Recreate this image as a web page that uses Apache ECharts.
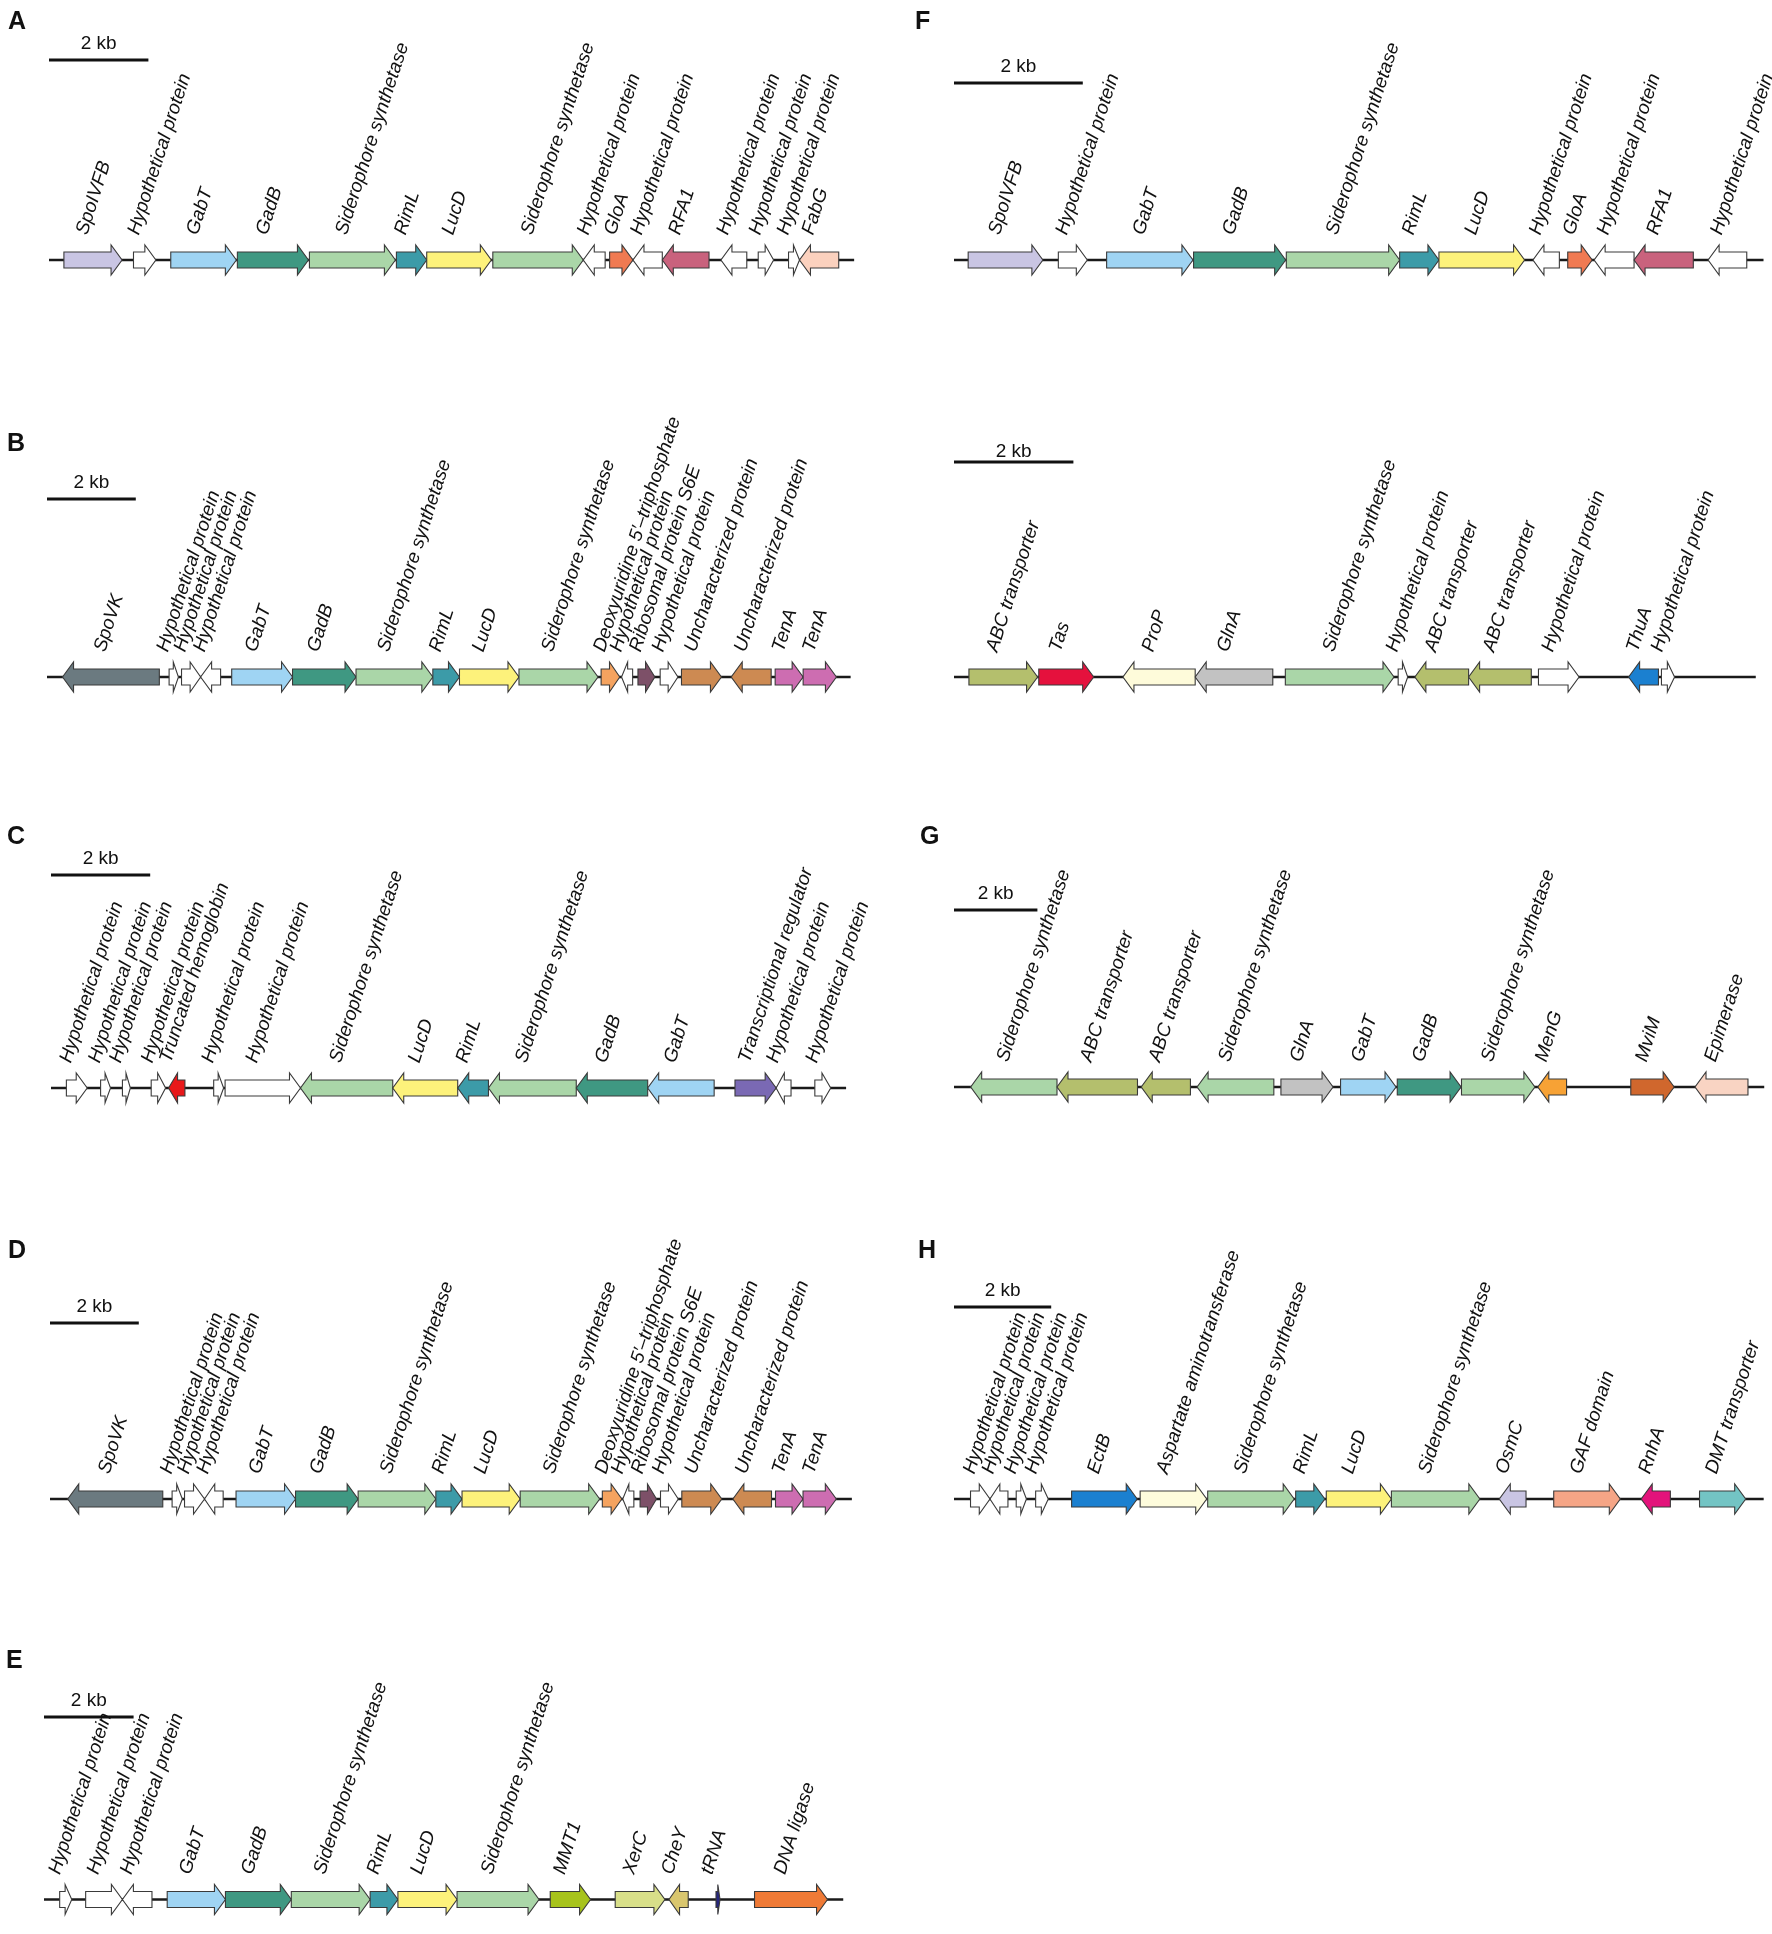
<!DOCTYPE html>
<html>
<head>
<meta charset="utf-8"/>
<title>Siderophore gene clusters</title>
<script src="https://cdn.jsdelivr.net/npm/echarts@6/dist/echarts.min.js"></script>
<style>
  html, body { margin: 0; padding: 0; background: #fff; }
  #chart { width: 1772px; height: 1934px; }
</style>
</head>
<body>
<div id="chart"></div>
<script>
// gene = [start kb, end kb, strand (1 forward, -1 reverse), label]
var genesA = [
  [0.30, 1.47, 1, 'SpoIVFB'],
  [1.70, 2.15, 1, 'Hypothetical protein'],
  [2.45, 3.77, 1, 'GabT'],
  [3.79, 5.22, 1, 'GadB'],
  [5.24, 6.97, 1, 'Siderophore synthetase'],
  [6.99, 7.60, 1, 'RimL'],
  [7.60, 8.90, 1, 'LucD'],
  [8.93, 10.75, 1, 'Siderophore synthetase'],
  [10.75, 11.19, -1, 'Hypothetical protein'],
  [11.28, 11.75, 1, 'GloA'],
  [11.75, 12.34, -1, 'Hypothetical protein'],
  [12.34, 13.28, -1, 'RFA1'],
  [13.52, 14.04, -1, 'Hypothetical protein'],
  [14.27, 14.58, 1, 'Hypothetical protein'],
  [14.88, 15.10, 1, 'Hypothetical protein'],
  [15.10, 15.89, -1, 'FabG']
];
var genesB = [
  [0.35, 2.53, -1, 'SpoVK'],
  [2.75, 2.96, 1, 'Hypothetical protein'],
  [3.03, 3.46, 1, 'Hypothetical protein'],
  [3.46, 3.91, -1, 'Hypothetical protein'],
  [4.16, 5.53, 1, 'GabT'],
  [5.53, 6.96, 1, 'GadB'],
  [6.96, 8.69, 1, 'Siderophore synthetase'],
  [8.69, 9.29, 1, 'RimL'],
  [9.29, 10.63, 1, 'LucD'],
  [10.63, 12.41, 1, 'Siderophore synthetase'],
  [12.48, 12.90, 1, 'Deoxyuridine 5\u2032\u2013triphosphate'],
  [12.94, 13.19, -1, 'Hypothetical protein'],
  [13.31, 13.69, 1, 'Ribosomal protein S6E'],
  [13.81, 14.21, 1, 'Hypothetical protein'],
  [14.29, 15.19, 1, 'Uncharacterized protein'],
  [15.41, 16.31, -1, 'Uncharacterized protein'],
  [16.40, 17.03, 1, 'TenA'],
  [17.03, 17.78, 1, 'TenA']
];
var genesC = [
  [0.31, 0.73, 1, 'Hypothetical protein'],
  [1.00, 1.20, 1, 'Hypothetical protein'],
  [1.44, 1.60, 1, 'Hypothetical protein'],
  [2.02, 2.31, 1, 'Hypothetical protein'],
  [2.37, 2.70, -1, 'Truncated hemoglobin'],
  [3.28, 3.48, 1, 'Hypothetical protein'],
  [3.51, 5.03, 1, 'Hypothetical protein'],
  [5.03, 6.89, -1, 'Siderophore synthetase'],
  [6.89, 8.20, -1, 'LucD'],
  [8.20, 8.82, -1, 'RimL'],
  [8.82, 10.59, -1, 'Siderophore synthetase'],
  [10.59, 12.03, -1, 'GadB'],
  [12.03, 13.37, -1, 'GabT'],
  [13.79, 14.62, 1, 'Transcriptional regulator'],
  [14.62, 14.92, -1, 'Hypothetical protein'],
  [15.40, 15.72, 1, 'Hypothetical protein']
];
var genesD = [
  [0.40, 2.54, -1, 'SpoVK'],
  [2.75, 2.98, 1, 'Hypothetical protein'],
  [3.03, 3.48, 1, 'Hypothetical protein'],
  [3.48, 3.90, -1, 'Hypothetical protein'],
  [4.19, 5.53, 1, 'GabT'],
  [5.53, 6.94, 1, 'GadB'],
  [6.94, 8.69, 1, 'Siderophore synthetase'],
  [8.69, 9.28, 1, 'RimL'],
  [9.28, 10.59, 1, 'LucD'],
  [10.59, 12.38, 1, 'Siderophore synthetase'],
  [12.44, 12.88, 1, 'Deoxyuridine 5\u2032\u2013triphosphate'],
  [12.90, 13.15, -1, 'Hypothetical protein'],
  [13.29, 13.66, 1, 'Ribosomal protein S6E'],
  [13.75, 14.15, 1, 'Hypothetical protein'],
  [14.23, 15.13, 1, 'Uncharacterized protein'],
  [15.38, 16.25, -1, 'Uncharacterized protein'],
  [16.34, 16.96, 1, 'TenA'],
  [16.96, 17.71, 1, 'TenA']
];
var genesE = [
  [0.35, 0.62, 1, 'Hypothetical protein'],
  [0.93, 1.75, 1, 'Hypothetical protein'],
  [1.75, 2.41, -1, 'Hypothetical protein'],
  [2.75, 4.05, 1, 'GabT'],
  [4.05, 5.52, 1, 'GadB'],
  [5.52, 7.28, 1, 'Siderophore synthetase'],
  [7.28, 7.90, 1, 'RimL'],
  [7.90, 9.22, 1, 'LucD'],
  [9.22, 11.05, 1, 'Siderophore synthetase'],
  [11.30, 12.20, 1, 'MMT1'],
  [12.75, 13.86, 1, 'XerC'],
  [13.95, 14.38, -1, 'CheY'],
  [15.00, 15.09, 1, 'tRNA'],
  [15.86, 17.49, 1, 'DNA ligase']
];
var genesF = [
  [0.22, 1.38, 1, 'SpoIVFB'],
  [1.62, 2.07, 1, 'Hypothetical protein'],
  [2.37, 3.71, 1, 'GabT'],
  [3.72, 5.15, 1, 'GadB'],
  [5.16, 6.92, 1, 'Siderophore synthetase'],
  [6.92, 7.53, 1, 'RimL'],
  [7.53, 8.86, 1, 'LucD'],
  [8.99, 9.40, -1, 'Hypothetical protein'],
  [9.53, 9.91, 1, 'GloA'],
  [9.94, 10.56, -1, 'Hypothetical protein'],
  [10.56, 11.48, -1, 'RFA1'],
  [11.71, 12.31, -1, 'Hypothetical protein']
];
var genesF2 = [
  [0.25, 1.40, 1, 'ABC transporter'],
  [1.42, 2.34, 1, 'Tas'],
  [2.83, 4.04, -1, 'ProP'],
  [4.04, 5.34, -1, 'GlnA'],
  [5.55, 7.37, 1, 'Siderophore synthetase'],
  [7.44, 7.60, 1, 'Hypothetical protein'],
  [7.72, 8.62, -1, 'ABC transporter'],
  [8.62, 9.67, -1, 'ABC transporter'],
  [9.79, 10.47, 1, 'Hypothetical protein'],
  [11.30, 11.80, -1, 'ThuA'],
  [11.85, 12.07, 1, 'Hypothetical protein']
];
var genesG = [
  [0.40, 2.47, -1, 'Siderophore synthetase'],
  [2.47, 4.40, -1, 'ABC transporter'],
  [4.49, 5.67, -1, 'ABC transporter'],
  [5.83, 7.67, -1, 'Siderophore synthetase'],
  [7.84, 9.09, 1, 'GlnA'],
  [9.27, 10.60, 1, 'GabT'],
  [10.63, 12.16, 1, 'GadB'],
  [12.17, 13.93, 1, 'Siderophore synthetase'],
  [14.00, 14.69, -1, 'MenG'],
  [16.23, 17.27, 1, 'MviM'],
  [17.77, 19.04, -1, 'Epimerase']
];
var genesH = [
  [0.34, 0.74, 1, 'Hypothetical protein'],
  [0.74, 1.11, -1, 'Hypothetical protein'],
  [1.28, 1.49, 1, 'Hypothetical protein'],
  [1.68, 1.94, 1, 'Hypothetical protein'],
  [2.42, 3.77, 1, 'EctB'],
  [3.83, 5.20, 1, 'Aspartate aminotransferase'],
  [5.22, 7.00, 1, 'Siderophore synthetase'],
  [7.03, 7.63, 1, 'RimL'],
  [7.66, 9.00, 1, 'LucD'],
  [9.00, 10.82, 1, 'Siderophore synthetase'],
  [11.22, 11.77, -1, 'OsmC'],
  [12.34, 13.71, 1, 'GAF domain'],
  [14.14, 14.74, -1, 'RnhA'],
  [15.34, 16.29, 1, 'DMT transporter']
];

var panelGenes = [genesA, genesB, genesC, genesD, genesE, genesF, genesF2, genesG, genesH];
var trackKb = [16.2, 18.1, 16.03, 18.06, 17.84, 12.57, 13.43, 19.43, 16.66];
var scaleKb = 2;

// page layout of each track (pixels)
var layout = [
  {letter: 'A', lx: 17,  ly: 23,   left: 49,  ppk: 49.7, y: 260,  barY: 60,   barGap: 7},
  {letter: 'B', lx: 16,  ly: 445,  left: 47,  ppk: 44.4, y: 677,  barY: 499,  barGap: 7},
  {letter: 'C', lx: 16,  ly: 838,  left: 51,  ppk: 49.6, y: 1088, barY: 875,  barGap: 7},
  {letter: 'D', lx: 17,  ly: 1252, left: 50,  ppk: 44.4, y: 1499, barY: 1323, barGap: 7},
  {letter: 'E', lx: 15,  ly: 1662, left: 44,  ppk: 44.8, y: 1915, barY: 1717, barGap: 7},
  {letter: 'F', lx: 924, ly: 23,   left: 954, ppk: 64.4, y: 260,  barY: 83,   barGap: 7},
  {letter: '',  lx: 0,   ly: 0,    left: 954, ppk: 59.7, y: 677,  barY: 462,  barGap: 1},
  {letter: 'G', lx: 929, ly: 838,  left: 954, ppk: 41.7, y: 1087, barY: 910,  barGap: 7},
  {letter: 'H', lx: 927, ly: 1252, left: 954, ppk: 48.6, y: 1499, barY: 1307, barGap: 7}
];

var geneColor = {
  'SpoIVFB': '#c9c5e3',
  'Hypothetical protein': '#ffffff',
  'GabT': '#9fd4f3',
  'GadB': '#3f9882',
  'Siderophore synthetase': '#aad6a8',
  'RimL': '#3c9ba8',
  'LucD': '#fdf27b',
  'GloA': '#f07a52',
  'RFA1': '#c9627d',
  'FabG': '#fbd1be',
  'SpoVK': '#6b7a80',
  'Deoxyuridine 5\u2032\u2013triphosphate': '#f5a35f',
  'Ribosomal protein S6E': '#7d5068',
  'Uncharacterized protein': '#cd8a52',
  'TenA': '#cd6db1',
  'Truncated hemoglobin': '#e8181a',
  'Transcriptional regulator': '#7a69b4',
  'MMT1': '#a7c31c',
  'XerC': '#d8df89',
  'CheY': '#d9c66e',
  'tRNA': '#26267c',
  'DNA ligase': '#ef7a36',
  'ABC transporter': '#b4bf6d',
  'Tas': '#e5113d',
  'ProP': '#fefbda',
  'GlnA': '#c2c2c2',
  'ThuA': '#1b80d0',
  'MenG': '#f7a235',
  'MviM': '#d0672d',
  'Epimerase': '#f9d4c3',
  'EctB': '#1b80d0',
  'Aspartate aminotransferase': '#fefcdc',
  'OsmC': '#c9c5e3',
  'GAF domain': '#f5a586',
  'RnhA': '#e3137b',
  'DMT transporter': '#73c4c4'
};

var LABEL_FONT = '"Liberation Sans", Arial, sans-serif';
var ANGLE = 72 * Math.PI / 180;

function geneRenderer(list) {
  return function (params, api) {
    var g = list[params.dataIndex];
    var a = api.coord([g[0], 0]);
    var b = api.coord([g[1], 0]);
    var x0 = Math.min(a[0], b[0]), x1 = Math.max(a[0], b[0]);
    var y = a[1];
    var len = x1 - x0;
    var head = Math.min(11, len * 0.55);
    var bh = 8, hh = 15;
    var pts;
    if (g[2] > 0) {
      pts = [[x0, y - bh], [x1 - head, y - bh], [x1 - head, y - hh], [x1, y],
             [x1 - head, y + hh], [x1 - head, y + bh], [x0, y + bh]];
    } else {
      pts = [[x1, y - bh], [x0 + head, y - bh], [x0 + head, y - hh], [x0, y],
             [x0 + head, y + hh], [x0 + head, y + bh], [x1, y + bh]];
    }
    var cx = (x0 + x1) / 2;
    return {
      type: 'group',
      children: [
        {
          type: 'polygon',
          shape: {points: pts},
          style: {fill: geneColor[g[3]] || '#fff', stroke: '#3a3a3a', lineWidth: 1.1}
        },
        {
          type: 'text',
          x: cx - 2,
          y: y - 23,
          rotation: ANGLE,
          style: {
            text: g[3],
            fontFamily: LABEL_FONT,
            fontStyle: 'italic',
            fontSize: 19,
            fill: '#111',
            align: 'left',
            verticalAlign: 'bottom'
          }
        }
      ]
    };
  };
}

function backboneRenderer(params, api) {
  var a = api.coord([api.value(0), 0]);
  var b = api.coord([api.value(1), 0]);
  return {
    type: 'line',
    shape: {x1: a[0], y1: a[1], x2: b[0], y2: b[1]},
    style: {stroke: '#1a1a1a', lineWidth: 2.6}
  };
}

function scaleRenderer(lay) {
  return function (params, api) {
    var a = api.coord([api.value(0), 0]);
    var b = api.coord([api.value(1), 0]);
    return {
      type: 'group',
      children: [
        {
          type: 'line',
          shape: {x1: a[0], y1: lay.barY, x2: b[0], y2: lay.barY},
          style: {stroke: '#111', lineWidth: 3}
        },
        {
          type: 'text',
          x: (a[0] + b[0]) / 2,
          y: lay.barY - lay.barGap,
          style: {
            text: scaleKb + ' kb',
            fontFamily: LABEL_FONT,
            fontSize: 19,
            fill: '#111',
            align: 'center',
            verticalAlign: 'bottom'
          }
        }
      ]
    };
  };
}

var grids = [], xAxes = [], yAxes = [], series = [], graphics = [];
layout.forEach(function (lay, i) {
  grids.push({left: lay.left, top: lay.y - 50, width: trackKb[i] * lay.ppk, height: 100});
  xAxes.push({gridIndex: i, type: 'value', min: 0, max: trackKb[i], show: false});
  yAxes.push({gridIndex: i, type: 'value', min: -1, max: 1, show: false});
  series.push({
    type: 'custom', xAxisIndex: i, yAxisIndex: i, silent: true,
    renderItem: backboneRenderer, data: [[0, trackKb[i]]], z: 1
  });
  series.push({
    type: 'custom', xAxisIndex: i, yAxisIndex: i, silent: true,
    renderItem: geneRenderer(panelGenes[i]),
    data: panelGenes[i].map(function (g) { return [g[0], g[1], g[2]]; }), z: 2
  });
  series.push({
    type: 'custom', xAxisIndex: i, yAxisIndex: i, silent: true,
    renderItem: scaleRenderer(lay), data: [[0, scaleKb]], z: 2
  });
  if (lay.letter) {
    graphics.push({
      type: 'text', left: lay.lx - 9, top: lay.ly - 13,
      style: {text: lay.letter, fontFamily: LABEL_FONT, fontWeight: 'bold', fontSize: 25, fill: '#111'}
    });
  }
});

var myChart = echarts.init(document.getElementById('chart'));
myChart.setOption({
  backgroundColor: '#ffffff',
  animation: false,
  grid: grids,
  xAxis: xAxes,
  yAxis: yAxes,
  graphic: graphics,
  series: series
});
</script>
</body>
</html>
